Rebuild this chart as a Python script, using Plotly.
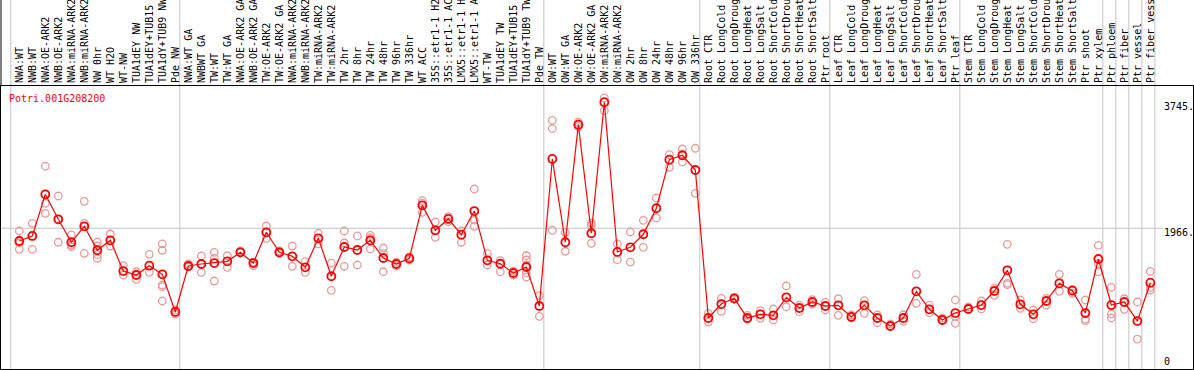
import plotly.graph_objects as go

gene = "Potri.001G208200"

labels = [
    "NWA:WT", "NWB:WT", "NWA:OE-ARK2", "NWB:OE-ARK2", "NWA:miRNA-ARK2", "NWB:miRNA-ARK2",
    "NW 0hr", "WT H2O", "WT-NW", "TUA1dEY NW", "TUA1dEY+TUB15", "TUA1dY+TUB9 NW", "Pde NW",
    "NWA:WT GA", "NWBWT GA", "TW:WT", "TW:WT GA", "NWA:OE-ARK2 GA", "NWB:OE-ARK2 GA",
    "TW:OE-ARK2", "TW:OE-ARK2 GA", "NWA:miRNA-ARK2", "NWB:miRNA-ARK2", "TW:miRNA-ARK2",
    "TW:miRNA-ARK2", "TW 2hr", "TW 8hr", "TW 24hr", "TW 48hr", "TW 96hr", "TW 336hr",
    "WT ACC", "35S::etr1-1 H2O", "35S::etr1-1 ACC", "LMX5::etr1-1 H2O", "LMX5::etr1-1 ACC",
    "WT-TW", "TUA1dEY TW", "TUA1dEY+TUB15 TW", "TUA1dY+TUB9 TW", "Pde TW",
    "OW:WT", "OW:WT GA", "OW:OE-ARK2", "OW:OE-ARK2 GA", "OW:miRNA-ARK2", "OW:miRNA-ARK2",
    "OW 2hr", "OW 8hr", "OW 24hr", "OW 48hr", "OW 96hr", "OW 336hr",
    "Root CTR", "Root LongCold", "Root LongDrought", "Root LongHeat", "Root LongSalt",
    "Root ShortCold", "Root ShortDrought", "Root ShortHeat", "Root ShortSalt", "Ptr root",
    "Leaf CTR", "Leaf LongCold", "Leaf LongDrought", "Leaf LongHeat", "Leaf LongSalt",
    "Leaf ShortCold", "Leaf ShortDrought", "Leaf ShortHeat", "Leaf ShortSalt", "Ptr leaf",
    "Stem CTR", "Stem LongCold", "Stem LongDrought", "Stem LongHeat", "Stem LongSalt",
    "Stem ShortCold", "Stem ShortDrought", "Stem ShortHeat", "Stem ShortSalt", "Ptr shoot",
    "Ptr xylem", "Ptr phloem", "Ptr fiber", "Ptr vessel", "Ptr fiber vessel",
]

means = [
    1786, 1857, 2445, 2092, 1768, 1993, 1655, 1796, 1362, 1306, 1437, 1316, 784,
    1433, 1461, 1475, 1499, 1626, 1475, 1909, 1626, 1570, 1415, 1824, 1288, 1701, 1659,
    1796, 1546, 1461, 1542, 2290, 1937, 2097, 1875, 2209, 1513, 1465, 1334, 1419, 868,
    2944, 1768, 3428, 1895, 3745, 1631, 1697, 1881, 2248, 2934, 2996, 2788,
    699, 896, 977, 699, 751, 737, 991, 840, 925, 868,
    878, 713, 878, 699, 586, 699, 1076, 822, 671, 769,
    826, 882, 1080, 1372, 892, 751, 939, 1189, 1084, 769, 1532,
    882, 925, 656, 1197,
]

replicates = [
    [1927, 1669, 1758], [2036, 1669, 1857], [2841, 2318, 2177], [2421, 1768, 2092],
    [1871, 1705, 1729], [2346, 2036, 1612], [1772, 1715, 1593, 1542], [1885, 1715],
    [1437, 1306], [1352, 1245], [1598, 1344], [1744, 1655, 1165, 1141, 939], [755, 812],
    [1419, 1461], [1574, 1344], [1626, 1542, 1221], [1578, 1415], [1626, 1645],
    [1437, 1489], [1998, 1824], [1612, 1645], [1715, 1429], [1494, 1344], [1895, 1744],
    [1475, 1090], [1927, 1758, 1429], [1857, 1447], [1866, 1673, 1828],
    [1687, 1612, 1352], [1433, 1489], [1518, 1560], [2355, 2191, 2322], [2054, 1838],
    [2129, 2058], [1927, 1768], [2520, 2082, 1993], [1607, 1447], [1508, 1352],
    [1362, 1306], [1578, 1518, 1447, 1338, 1278], [1014, 723],
    [3490, 3374, 1937], [1909, 1641], [3462, 3400], [2040, 2008, 1753], [3805, 3626],
    [1744, 1522], [1913, 1489], [2078, 1697], [2393, 2111], [3004, 2826],
    [3085, 2901, 3014], [3095, 2459],
    [765, 642], [977, 793], [991, 960], [737, 680], [802, 695], [826, 671], [1151, 858],
    [882, 788], [957, 896], [920, 812],
    [971, 737], [713, 741], [943, 765], [741, 632], [586, 614], [745, 652], [1316, 906],
    [882, 774], [671, 699], [953, 717, 624],
    [826, 854], [939, 826], [1122, 1019], [1739, 1189, 1169], [953, 836], [812, 689],
    [977, 882], [1316, 1076], [1104, 1048], [953, 680, 661], [1725, 1465, 1352],
    [1132, 755, 699], [971, 822], [925, 402], [1358, 1132, 1094],
]

group_breaks = [0, 13, 41, 53, 63, 73, 84, 85, 86, 87, 88]
axis_ticks = [0, 1966, 3745]
axis_ticktext = ["0", "1966.", "3745."]

FONT = "DejaVu Sans Mono"
RED = "#ff0000"
PINK = "#eb9a9a"

rep_x, rep_y = [], []
for i, reps in enumerate(replicates):
    for v in reps:
        rep_x.append(i)
        rep_y.append(v)

fig = go.Figure()
fig.add_trace(go.Scatter(
    x=rep_x, y=rep_y, mode="markers",
    marker=dict(symbol="circle-open", size=7.5, color=PINK, line=dict(width=1.3, color=PINK)),
    hoverinfo="skip", showlegend=False, cliponaxis=False,
))
fig.add_trace(go.Scatter(
    x=list(range(len(means))), y=means, mode="lines+markers",
    line=dict(color=RED, width=1.2),
    marker=dict(symbol="circle-open", size=8, color=RED, line=dict(width=1.8, color=RED)),
    showlegend=False, cliponaxis=False,
))

shapes = []
for b in group_breaks:
    shapes.append(dict(type="line", xref="x", yref="paper", x0=b - 0.654, x1=b - 0.654,
                       y0=0, y1=1.32, line=dict(color="#c4c4c4", width=1), layer="below"))
shapes.append(dict(type="line", xref="x", yref="y", x0=-1.5, x1=87.95, y0=1966, y1=1966,
                   line=dict(color="#c4c4c4", width=1), layer="below"))
shapes.append(dict(type="line", xref="paper", yref="paper", x0=0, x1=0, y0=1, y1=1.32,
                   line=dict(color="black", width=1)))

annotations = [dict(
    text=gene, xref="paper", yref="paper", x=0, y=1, xanchor="left", yanchor="top",
    xshift=6, yshift=-5, showarrow=False, font=dict(family=FONT, size=10, color=RED),
)]
yshifts = [5.8, -4.4, -4.4]
for v, t, ys in zip(axis_ticks, axis_ticktext, yshifts):
    annotations.append(dict(
        text=t, xref="x", yref="y", x=87.9, y=v, xanchor="left", yanchor="middle",
        yshift=ys, showarrow=False, font=dict(family=FONT, size=10, color="black"),
    ))

fig.update_layout(
    width=1194, height=370,
    margin=dict(l=1, r=1, t=86, b=1, pad=0, autoexpand=False),
    paper_bgcolor="white", plot_bgcolor="white",
    shapes=shapes, annotations=annotations,
    xaxis=dict(
        range=[-1.408, 90.28], side="top", tickmode="array", automargin=False,
        tickvals=list(range(len(labels))), ticktext=labels, tickangle=-90,
        tickfont=dict(family=FONT, size=10, color="black"),
        ticks="", showgrid=False, zeroline=False,
        showline=True, mirror=True, linecolor="black", linewidth=1,
    ),
    yaxis=dict(
        range=[-21, 3974], showticklabels=False, ticks="", showgrid=False, automargin=False,
        zeroline=False, showline=True, mirror=True, linecolor="black", linewidth=1,
    ),
)

fig.write_html("out.html", config={"displayModeBar": False},
               post_script="document.body.style.margin='0';")
